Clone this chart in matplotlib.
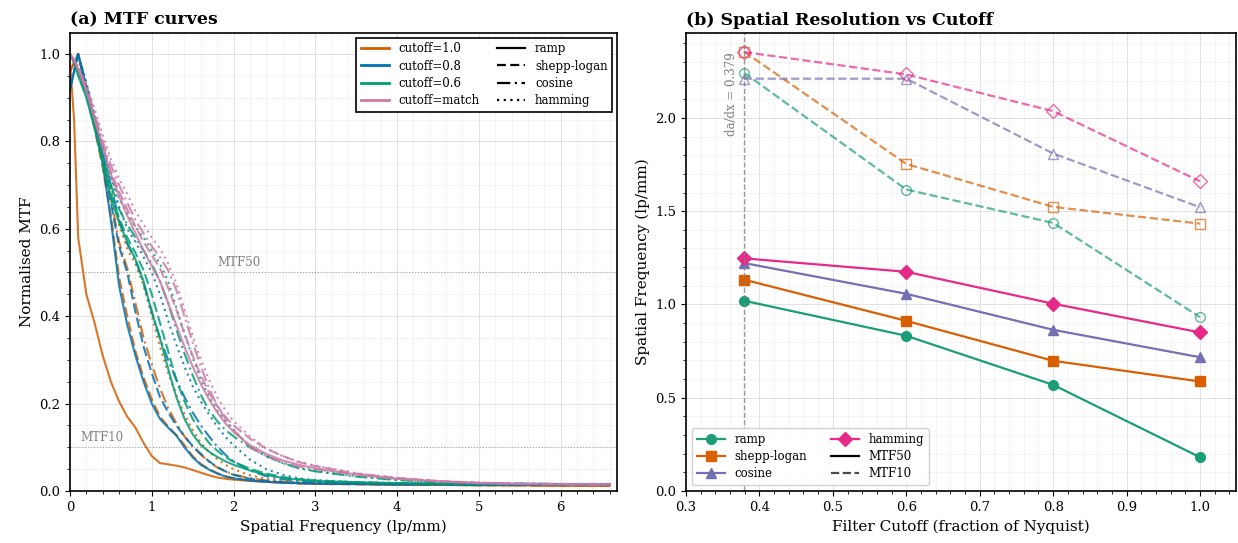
import matplotlib
matplotlib.use("Agg")
import matplotlib.pyplot as plt
from matplotlib.lines import Line2D
from matplotlib.ticker import AutoMinorLocator

plt.rcParams['font.family'] = ['DejaVu Serif']
plt.rcParams['font.size'] = 10

# ---------------- data: panel (a) ----------------
freq = [0, 0.05, 0.1, 0.2, 0.3, 0.4, 0.5, 0.6, 0.7, 0.8, 0.9, 1.0, 1.1, 1.2, 1.3, 1.4,
        1.5, 1.6, 1.7, 1.8, 1.9, 2.0, 2.2, 2.4, 2.6, 2.8, 3.0, 3.5, 4.0, 4.5, 5.0,
        5.5, 6.0, 6.6]

c10_ramp = [0.98, 0.85, 0.58, 0.45, 0.385, 0.31, 0.25, 0.205, 0.17, 0.145, 0.11, 0.08, 0.064,
            0.061, 0.058, 0.054, 0.048, 0.042, 0.036, 0.031, 0.028, 0.026, 0.023, 0.021,
            0.019, 0.018, 0.017, 0.016, 0.015, 0.014, 0.013, 0.013, 0.012, 0.012]
c10_shepp = [0.96, 0.98, 1.0, 0.91, 0.83, 0.74, 0.63, 0.49, 0.40, 0.32, 0.26, 0.21, 0.17,
             0.148, 0.128, 0.105, 0.08, 0.062, 0.05, 0.041, 0.034, 0.029, 0.024, 0.021,
             0.019, 0.017, 0.016, 0.015, 0.014, 0.014, 0.013, 0.013, 0.012, 0.012]
c10_cos = [0.96, 0.98, 1.0, 0.92, 0.84, 0.76, 0.67, 0.57, 0.51, 0.43, 0.35, 0.29, 0.235,
           0.19, 0.155, 0.125, 0.102, 0.083, 0.067, 0.054, 0.045, 0.038, 0.029, 0.024,
           0.021, 0.019, 0.018, 0.016, 0.015, 0.014, 0.014, 0.013, 0.013, 0.012]
c10_ham = [0.96, 0.98, 1.0, 0.925, 0.85, 0.77, 0.69, 0.61, 0.555, 0.52, 0.47, 0.40, 0.33,
           0.27, 0.22, 0.175, 0.14, 0.11, 0.09, 0.073, 0.06, 0.05, 0.036, 0.028, 0.023,
           0.02, 0.019, 0.017, 0.016, 0.015, 0.014, 0.014, 0.013, 0.013]

c08_ramp = [0.92, 0.96, 1.0, 0.92, 0.84, 0.75, 0.62, 0.47, 0.38, 0.31, 0.25, 0.20, 0.165,
            0.145, 0.127, 0.10, 0.077, 0.06, 0.049, 0.04, 0.033, 0.029, 0.024, 0.021,
            0.019, 0.018, 0.017, 0.016, 0.015, 0.015, 0.014, 0.014, 0.014, 0.014]
c08_shepp = [0.92, 0.96, 1.0, 0.925, 0.845, 0.76, 0.66, 0.56, 0.50, 0.41, 0.33, 0.27, 0.215,
             0.18, 0.15, 0.125, 0.103, 0.085, 0.068, 0.055, 0.045, 0.037, 0.028, 0.023,
             0.02, 0.018, 0.017, 0.016, 0.015, 0.015, 0.014, 0.014, 0.014, 0.014]
c08_cos = [0.92, 0.96, 1.0, 0.93, 0.85, 0.775, 0.70, 0.62, 0.565, 0.53, 0.475, 0.41, 0.35,
           0.30, 0.255, 0.215, 0.18, 0.15, 0.125, 0.102, 0.083, 0.068, 0.047, 0.034,
           0.027, 0.023, 0.021, 0.019, 0.017, 0.016, 0.015, 0.015, 0.014, 0.014]
c08_ham = [0.92, 0.96, 1.0, 0.935, 0.86, 0.79, 0.72, 0.65, 0.60, 0.57, 0.535, 0.50, 0.45,
           0.39, 0.335, 0.285, 0.24, 0.205, 0.175, 0.148, 0.124, 0.105, 0.072, 0.05,
           0.037, 0.029, 0.025, 0.02, 0.018, 0.016, 0.015, 0.015, 0.014, 0.014]

c06_ramp = [1.0, 0.98, 0.95, 0.90, 0.83, 0.75, 0.67, 0.615, 0.57, 0.53, 0.48, 0.41, 0.35,
            0.28, 0.215, 0.165, 0.13, 0.105, 0.09, 0.078, 0.068, 0.06, 0.047, 0.037,
            0.03, 0.026, 0.023, 0.02, 0.018, 0.017, 0.016, 0.016, 0.016, 0.016]
c06_shepp = [1.0, 0.98, 0.955, 0.905, 0.835, 0.76, 0.68, 0.625, 0.58, 0.545, 0.505, 0.45,
             0.385, 0.32, 0.255, 0.205, 0.165, 0.135, 0.11, 0.092, 0.078, 0.067, 0.051,
             0.04, 0.032, 0.027, 0.024, 0.02, 0.018, 0.017, 0.016, 0.016, 0.016, 0.016]
c06_cos = [1.0, 0.985, 0.96, 0.91, 0.845, 0.775, 0.70, 0.645, 0.61, 0.58, 0.55, 0.52, 0.48,
           0.43, 0.37, 0.315, 0.265, 0.22, 0.185, 0.16, 0.14, 0.125, 0.10, 0.08, 0.064,
           0.052, 0.045, 0.033, 0.025, 0.02, 0.018, 0.017, 0.016, 0.016]
c06_ham = [1.0, 0.985, 0.965, 0.915, 0.85, 0.785, 0.72, 0.67, 0.635, 0.605, 0.58, 0.55,
           0.52, 0.48, 0.42, 0.36, 0.305, 0.255, 0.215, 0.185, 0.16, 0.14, 0.102, 0.08,
           0.064, 0.053, 0.046, 0.034, 0.026, 0.021, 0.018, 0.017, 0.016, 0.016]

cm_ramp = [1.0, 0.985, 0.965, 0.915, 0.85, 0.785, 0.725, 0.675, 0.63, 0.59, 0.55, 0.515,
           0.48, 0.43, 0.38, 0.33, 0.285, 0.245, 0.21, 0.18, 0.155, 0.135, 0.105, 0.085,
           0.07, 0.06, 0.052, 0.038, 0.028, 0.022, 0.018, 0.016, 0.015, 0.015]
cm_shepp = [1.0, 0.985, 0.965, 0.92, 0.855, 0.79, 0.73, 0.685, 0.645, 0.605, 0.57, 0.54,
            0.51, 0.465, 0.415, 0.36, 0.31, 0.265, 0.225, 0.195, 0.17, 0.15, 0.12, 0.097,
            0.08, 0.066, 0.057, 0.04, 0.03, 0.023, 0.019, 0.017, 0.016, 0.015]
cm_cos = [1.0, 0.985, 0.97, 0.925, 0.865, 0.80, 0.745, 0.70, 0.66, 0.62, 0.59, 0.56, 0.535,
          0.505, 0.46, 0.40, 0.34, 0.285, 0.235, 0.195, 0.165, 0.14, 0.10, 0.08, 0.066,
          0.056, 0.05, 0.037, 0.028, 0.022, 0.018, 0.016, 0.015, 0.015]
cm_ham = [1.0, 0.988, 0.972, 0.93, 0.875, 0.815, 0.76, 0.715, 0.68, 0.64, 0.61, 0.58, 0.555,
          0.52, 0.475, 0.415, 0.355, 0.30, 0.255, 0.215, 0.185, 0.16, 0.125, 0.097, 0.08,
          0.067, 0.058, 0.041, 0.03, 0.023, 0.019, 0.017, 0.016, 0.015]

cutoff_labels = ["cutoff=1.0", "cutoff=0.8", "cutoff=0.6", "cutoff=match"]
filter_names = ["ramp", "shepp-logan", "cosine", "hamming"]
mtf_curves = [
    [c10_ramp, c10_shepp, c10_cos, c10_ham],
    [c08_ramp, c08_shepp, c08_cos, c08_ham],
    [c06_ramp, c06_shepp, c06_cos, c06_ham],
    [cm_ramp, cm_shepp, cm_cos, cm_ham],
]

# ---------------- data: panel (b) ----------------
cutoffs = [0.379, 0.6, 0.8, 1.0]
mtf50 = {
    "ramp":        [1.02, 0.832, 0.569, 0.181],
    "shepp-logan": [1.133, 0.912, 0.698, 0.587],
    "cosine":      [1.222, 1.057, 0.864, 0.717],
    "hamming":     [1.247, 1.175, 1.004, 0.85],
}
mtf10 = {
    "ramp":        [2.242, 1.616, 1.437, 0.932],
    "shepp-logan": [2.355, 1.753, 1.523, 1.433],
    "cosine":      [2.21, 2.21, 1.809, 1.521],
    "hamming":     [2.353, 2.233, 2.036, 1.66],
}
match_cutoff = 0.379

# ---------------- styles ----------------
cut_colors = ["#D55E00", "#0072B2", "#009E73", "#CC79A7"]
ls_map = ["-", (0, (5, 2)), (0, (6, 2, 1, 2)), (0, (1, 2))]
ls_leg = ["-", (0, (4, 2)), (0, (6, 2, 1, 2)), (0, (1, 2))]
f_colors = {"ramp": "#1b9e77", "shepp-logan": "#d95f02", "cosine": "#7570b3", "hamming": "#e7298a"}
f_markers = {"ramp": "o", "shepp-logan": "s", "cosine": "^", "hamming": "D"}

fig = plt.figure(figsize=(12.38, 5.43), dpi=100)
ax1 = fig.add_axes([70 / 1238, 52 / 543, 547 / 1238, 458 / 543])
ax2 = fig.add_axes([686 / 1238, 52 / 543, 550 / 1238, 458 / 543])

for ax in (ax1, ax2):
    ax.xaxis.set_minor_locator(AutoMinorLocator())
    ax.yaxis.set_minor_locator(AutoMinorLocator())
    ax.grid(True, which="major", color="#d9d9d9", lw=0.7, alpha=0.8)
    ax.grid(True, which="minor", color="#ececec", lw=0.5, alpha=0.8)
    ax.set_axisbelow(True)
    ax.tick_params(labelsize=9.5)
    for s in ax.spines.values():
        s.set_linewidth(1.2)

# panel (a)
for ci, curves in enumerate(mtf_curves):
    for fi, vals in enumerate(curves):
        ax1.plot(freq, vals, color=cut_colors[ci], ls=ls_map[fi], lw=1.5, alpha=0.85)
ax1.axhline(0.5, color="gray", ls=":", lw=0.8, alpha=0.7)
ax1.axhline(0.1, color="gray", ls=":", lw=0.8, alpha=0.7)
ax1.text(1.8, 0.515, "MTF50", color="gray", fontsize=8.5)
ax1.text(0.13, 0.115, "MTF10", color="gray", fontsize=8.5)
ax1.set_xlim(0, 6.69)
ax1.set_ylim(0, 1.048)
ax1.set_xlabel("Spatial Frequency (lp/mm)", fontsize=11)
ax1.set_ylabel("Normalised MTF", fontsize=11)
ax1.set_title("(a) MTF curves", loc="left", fontweight="bold", fontsize=12.5)

handles = [Line2D([], [], color=c, lw=2) for c in cut_colors]
handles += [Line2D([], [], color="black", lw=1.6, ls=l) for l in ls_leg]
labels = cutoff_labels + filter_names
leg1 = ax1.legend(handles, labels, ncol=2, loc="upper right", fontsize=8.5,
                  fancybox=False, framealpha=1, edgecolor="black",
                  handlelength=2.4, columnspacing=1.5, labelspacing=0.35,
                  borderaxespad=0.4)
leg1.get_frame().set_linewidth(1.2)

# panel (b)
for name in filter_names:
    ax2.plot(cutoffs, mtf50[name], color=f_colors[name], marker=f_markers[name],
             ms=7, lw=1.6, ls="-")
    ax2.plot(cutoffs, mtf10[name], color=f_colors[name], marker=f_markers[name],
             ms=7, lw=1.6, ls="--", mfc="none", alpha=0.7)
ax2.axvline(match_cutoff, color="gray", ls="--", lw=1.0, alpha=0.8)
ax2.text(match_cutoff - 0.008, 2.35, "da/dx = %.3f" % match_cutoff, rotation=90,
         color="gray", fontsize=8.5, ha="right", va="top")
ax2.set_xlim(0.3, 1.049)
ax2.set_ylim(0, 2.455)
ax2.set_xlabel("Filter Cutoff (fraction of Nyquist)", fontsize=11)
ax2.set_ylabel("Spatial Frequency (lp/mm)", fontsize=11)
ax2.set_title("(b) Spatial Resolution vs Cutoff", loc="left", fontweight="bold", fontsize=12.5)

h2 = [Line2D([], [], color=f_colors[n], marker=f_markers[n], ms=7, lw=1.6) for n in filter_names]
h2 += [Line2D([], [], color="black", lw=1.6, ls="-"),
       Line2D([], [], color="black", lw=1.6, ls="--", alpha=0.7)]
l2 = filter_names + ["MTF50", "MTF10"]
ax2.legend(h2, l2, ncol=2, loc="lower left", fontsize=8.5, framealpha=0.9,
           handlelength=2.4, columnspacing=2.0, labelspacing=0.35)

fig.savefig("out.png", dpi=100)
